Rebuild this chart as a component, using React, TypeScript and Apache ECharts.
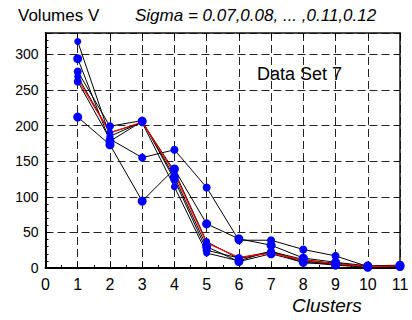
import React, { useEffect, useRef } from "react";
import * as echarts from "echarts";

const clusters = [1, 2, 3, 4, 5, 6, 7, 8, 9, 10, 11];
const sigma1 = [318, 185, 205, 136, 37, 13, 22, 10, 5, 2, 3];
const sigma2 = [294, 178, 206, 128, 30, 9, 20, 8, 4, 1, 2];
const sigma3 = [276, 199, 207, 124, 25, 14, 23, 12, 6, 2, 3];
const sigma4 = [269, 190, 204, 114, 21, 10, 24, 7, 7, 1, 3];
const sigma5 = [262, 181, 155, 166, 113, 39, 39, 26, 17, 2, 3];
const sigma6 = [212, 173, 94, 139, 62, 41, 32, 14, 8, 3, 4];
const reference = [265, 190, 205, 133, 35, 15, 21, 11, 6, 2, 3];
const blackSeries = [sigma1, sigma2, sigma3, sigma4, sigma5, sigma6];
const symbolSizes = [7, 9, 8, 7, 8, 9];
const xTicks = { min: 0, max: 11, interval: 1 };
const yTicks = { min: 0, max: 330, interval: 50 };

const FONT = "Liberation Sans, Arial, sans-serif";

export default function App() {
  const ref = useRef<HTMLDivElement>(null);
  useEffect(() => {
    if (!ref.current) return;
    const chart = echarts.init(ref.current, undefined, { renderer: "svg" });
    const pair = (arr: number[]) => arr.map((v, i) => [clusters[i], v]);
    const dashed = { show: true, lineStyle: { color: "#222", width: 1, type: [8, 4] } };
    const series: any[] = blackSeries.map((s, k) => ({
      type: "line",
      data: pair(s),
      symbol: "circle",
      symbolSize: symbolSizes[k],
      itemStyle: { color: "#0000ff" },
      lineStyle: { color: "#000", width: 1 },
      z: 3,
    }));
    series.push({
      type: "line",
      data: pair(reference),
      showSymbol: false,
      symbol: "none",
      lineStyle: { color: "#ff0000", width: 1.2 },
      z: 3,
    });
    chart.setOption({
      animation: false,
      grid: { left: 45.5, right: 12, top: 33, bottom: 52, containLabel: false },
      xAxis: [
        {
          type: "value",
          ...xTicks,
          axisLine: { show: true, onZero: false, lineStyle: { color: "#000", width: 2 } },
          axisTick: { show: true, inside: true, length: 5, lineStyle: { color: "#000", width: 1 } },
          minorTick: { show: true, splitNumber: 2, length: 3, lineStyle: { color: "#000", width: 1 } },
          axisLabel: { color: "#000", fontSize: 16, fontFamily: FONT, margin: 8 },
          splitLine: dashed,
        },
        {
          type: "value",
          position: "top",
          ...xTicks,
          axisLine: { show: true, onZero: false, lineStyle: { color: "#111", width: 1.5 } },
          axisTick: { show: true, inside: true, length: 5, lineStyle: { color: "#000", width: 1 } },
          axisLabel: { show: false },
          splitLine: { show: false },
        },
      ],
      yAxis: [
        {
          type: "value",
          ...yTicks,
          axisLine: { show: true, onZero: false, lineStyle: { color: "#000", width: 2 } },
          axisTick: { show: true, inside: true, length: 5, lineStyle: { color: "#000", width: 1 } },
          minorTick: { show: true, splitNumber: 5, length: 3, lineStyle: { color: "#000", width: 1 } },
          axisLabel: {
            color: "#000",
            fontSize: 14,
            fontFamily: FONT,
            margin: 7,
            formatter: (v: number) => (v % 50 === 0 ? String(v) : ""),
          },
          splitLine: {
            show: true,
            lineStyle: { color: "#222", width: 1, type: [8, 4] },
          },
        },
        {
          type: "value",
          position: "right",
          ...yTicks,
          axisLine: { show: true, onZero: false, lineStyle: { color: "#111", width: 1.5 } },
          axisTick: { show: true, inside: true, length: 4, lineStyle: { color: "#000", width: 1 } },
          axisLabel: { show: false },
          splitLine: { show: false },
        },
      ],
      series,
      graphic: [
        {
          type: "text",
          left: 18,
          top: 7,
          style: { text: "Volumes V", fontSize: 17, fontFamily: FONT, fill: "#000" },
        },
        {
          type: "text",
          left: 135,
          top: 7,
          style: {
            text: "Sigma = 0.07,0.08, ... ,0.11,0.12",
            fontSize: 17,
            fontStyle: "italic",
            fontFamily: FONT,
            fill: "#000",
          },
        },
        {
          type: "text",
          left: 257,
          top: 65,
          style: { text: "Data Set 7", fontSize: 18, fontFamily: FONT, fill: "#000" },
        },
        {
          type: "text",
          left: 292,
          top: 296,
          style: {
            text: "Clusters",
            fontSize: 19,
            fontStyle: "italic",
            fontFamily: FONT,
            fill: "#000",
          },
        },
      ],
    });
    return () => chart.dispose();
  }, []);
  return (
    <div
      ref={ref}
      style={{ position: "absolute", left: 0, top: 0, width: 412, height: 320, background: "#fff" }}
    />
  );
}
